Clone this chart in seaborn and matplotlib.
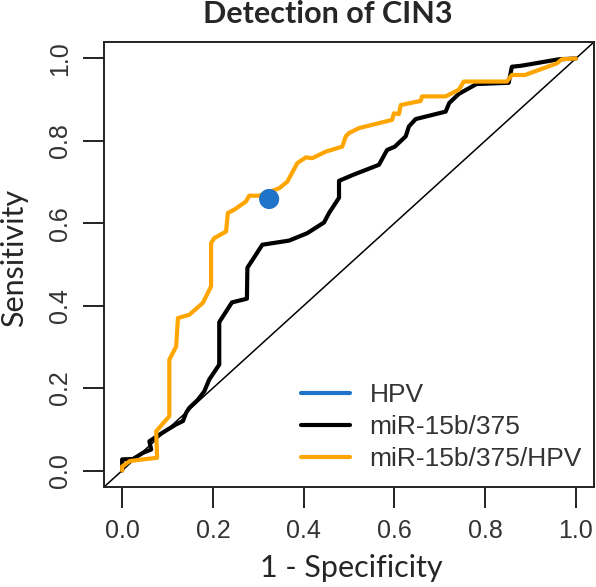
import numpy as np
import pandas as pd
import matplotlib
matplotlib.use("Agg")
import matplotlib.pyplot as plt
import seaborn as sns
from matplotlib.lines import Line2D

# ROC 曲线数据
fpr_mir = [0.0, 0.0, 0.024, 0.046, 0.064, 0.060, 0.082, 0.119, 0.134, 0.141, 0.148,
           0.167, 0.181, 0.192, 0.214, 0.214, 0.242, 0.275, 0.276, 0.309, 0.368,
           0.408, 0.445, 0.456, 0.478, 0.478, 0.510, 0.566, 0.584, 0.601, 0.625,
           0.632, 0.647, 0.713, 0.721, 0.742, 0.781, 0.852, 0.859, 0.877, 0.899,
           0.962, 1.0]
tpr_mir = [0.0, 0.027, 0.028, 0.043, 0.051, 0.071, 0.087, 0.112, 0.120, 0.140, 0.152,
           0.172, 0.192, 0.221, 0.257, 0.360, 0.408, 0.417, 0.492, 0.548, 0.558,
           0.576, 0.602, 0.625, 0.662, 0.703, 0.718, 0.742, 0.778, 0.786, 0.811,
           0.835, 0.853, 0.871, 0.892, 0.914, 0.938, 0.941, 0.980, 0.982, 0.986,
           0.998, 1.0]

fpr_comb = [0.0, 0.0, 0.017, 0.046, 0.077, 0.075, 0.104, 0.104, 0.119, 0.123, 0.148,
            0.178, 0.196, 0.196, 0.203, 0.229, 0.233, 0.247, 0.273, 0.280, 0.302,
            0.346, 0.364, 0.386, 0.405, 0.419, 0.449, 0.485, 0.493, 0.500, 0.522,
            0.595, 0.599, 0.610, 0.614, 0.658, 0.661, 0.713, 0.742, 0.753, 0.848,
            0.859, 0.888, 0.958, 0.969, 1.0]
tpr_comb = [0.0, 0.01, 0.023, 0.027, 0.031, 0.095, 0.132, 0.269, 0.301, 0.370, 0.378,
            0.407, 0.447, 0.552, 0.564, 0.580, 0.625, 0.633, 0.653, 0.667, 0.667,
            0.685, 0.701, 0.746, 0.760, 0.758, 0.774, 0.786, 0.811, 0.819, 0.831,
            0.851, 0.867, 0.865, 0.887, 0.897, 0.908, 0.908, 0.924, 0.944, 0.944,
            0.960, 0.960, 0.988, 0.998, 1.0]

hpv_fpr = [0.324]
hpv_tpr = [0.659]

labels = ["HPV", "miR-15b/375", "miR-15b/375/HPV"]
colors = ["#1F74C9", "black", "#FFA500"]
ticks = [0.0, 0.2, 0.4, 0.6, 0.8, 1.0]

df_mir = pd.DataFrame({"fpr": fpr_mir, "tpr": tpr_mir})
df_comb = pd.DataFrame({"fpr": fpr_comb, "tpr": tpr_comb})
df_hpv = pd.DataFrame({"fpr": hpv_fpr, "tpr": hpv_tpr})

sns.set_style("ticks")
plt.rcParams["font.family"] = ["Liberation Sans", "DejaVu Sans"]

fig = plt.figure(figsize=(5.96, 5.87), dpi=100)
ax = fig.add_axes([104 / 596, 1 - 487 / 587, 490 / 596, 445 / 587])

# 对角参考线
ax.axline((0, 0), (1, 1), color="black", lw=1.1, zorder=1)

sns.lineplot(data=df_mir, x="fpr", y="tpr", ax=ax, sort=False, estimator=None,
             color=colors[1], lw=3.0, zorder=2)
sns.lineplot(data=df_comb, x="fpr", y="tpr", ax=ax, sort=False, estimator=None,
             color=colors[2], lw=3.0, zorder=3)
sns.scatterplot(data=df_hpv, x="fpr", y="tpr", ax=ax, color=colors[0], s=210,
                edgecolor="none", zorder=4)

ax.set_xlim(-0.04, 1.04)
ax.set_ylim(-0.04, 1.04)
ax.set_xticks(ticks)
ax.set_yticks(ticks)
ax.set_xticklabels([f"{t:.1f}" for t in ticks])
ax.set_yticklabels([f"{t:.1f}" for t in ticks], rotation=90, va="center")
ax.tick_params(direction="out", length=15, width=1.4, labelsize=18, pad=8,
               colors="#222222", labelcolor="#333333")
for sp in ax.spines.values():
    sp.set_linewidth(1.4)
    sp.set_color("#222222")
ax.set_xlabel("")
ax.set_ylabel("")

handles = [Line2D([], [], color=c, lw=3.0) for c in colors]
ax.legend(handles, labels, loc="lower right", frameon=False, fontsize=19,
          bbox_to_anchor=(0.975, 0.036), borderaxespad=0, borderpad=0,
          handlelength=1.85, handletextpad=0.75, labelspacing=0.3)
for t in ax.get_legend().get_texts():
    t.set_color("#333333")

fig.text(0.55, 0.976, "Detection of CIN3", ha="center", va="center",
         fontsize=22, fontweight="bold", family=["Lato", "DejaVu Sans"])
fig.text(0.589, 0.017, "1 - Specificity", ha="center", va="baseline",
         fontsize=22, family=["Lato", "DejaVu Sans"])
fig.text(0.024, 0.56, "Sensitivity", ha="center", va="center", rotation=90,
         fontsize=22, family=["Lato", "DejaVu Sans"])

fig.savefig("out.png", dpi=100)
